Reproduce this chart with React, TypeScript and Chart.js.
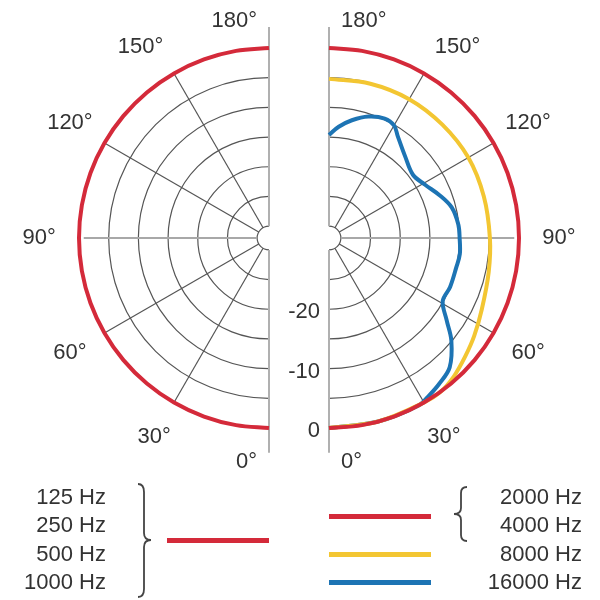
import { useEffect, useRef } from "react";
import { Chart, registerables } from "chart.js";

Chart.register(...registerables);

// ---------- data ----------
const ANGLE_TICKS = [0, 30, 60, 90, 120, 150, 180];
const ANGLE_LABELS = ["0°", "30°", "60°", "90°", "120°", "150°", "180°"];
const RING_DB = [-5, -10, -15, -20, -25, -30];
const DB_TICKS = [0, -10, -20];
const DB_TICK_LABELS = ["0", "-10", "-20"];
const DB_MIN = -32;

// left half: 125 / 250 / 500 / 1000 Hz
const LOW_ANGLES = [0, 10, 20, 30, 40, 50, 60, 70, 80, 90, 100, 110, 120, 130, 140, 150, 160, 170, 180];
const LOW_DB = [0, 0, 0, 0, 0, 0, 0, 0, 0, 0, 0, 0, 0, 0, 0, 0, 0, 0, 0];
// right half: 2000 / 4000 Hz
const MID_ANGLES = [0, 10, 20, 30, 40, 50, 60, 70, 80, 90, 100, 110, 120, 130, 140, 150, 160, 170, 180];
const MID_DB = [0, 0, 0, 0, 0, 0, 0, 0, 0, 0, 0, 0, 0, 0, 0, 0, 0, 0, 0];
// right half: 8000 Hz
const HF8_ANGLES = [0, 15, 30, 36, 42, 49, 56, 65, 78, 90, 105, 120, 135, 150, 165, 180];
const HF8_DB = [0, 0, 0, 0, -0.6, -1.6, -2.5, -3.6, -4.5, -4.9, -5.0, -4.9, -5.0, -5.0, -5.1, -5.2];
// right half: 16000 Hz
const HF16_ANGLES = [0, 15, 28, 32, 37, 43, 50, 55, 61, 68, 77, 83, 90, 96, 104, 111, 119, 127, 137, 146, 150, 155, 162, 169, 175, 180];
const HF16_DB = [0, 0, 0, -0.5, -1.2, -2.2, -5.1, -7.8, -10.1, -10.0, -10.0, -9.8, -10.0, -10.1, -10.7, -12.0, -13.5, -14.3, -13.2, -11.3, -10.1, -9.8, -10.5, -11.8, -13.2, -14.65];

const LEGEND_LEFT = ["125 Hz", "250 Hz", "500 Hz", "1000 Hz"];
const LEGEND_RIGHT = ["2000 Hz", "4000 Hz", "8000 Hz", "16000 Hz"];

const RED = "#d42a3a";
const YELLOW = "#f3c632";
const BLUE = "#1d74b4";
const TEXT = "#333333";
const FONT = "'Liberation Sans', Arial, Helvetica, sans-serif";

// ---------- layout ----------
const UNIT_PX = 190; // pixel radius of 0 dB circle
const MID_X = 299;
const CENTER_Y = 238;
const GAP = 30 / UNIT_PX; // half distance between the two half-plots

const rOf = (db: number) => (db - DB_MIN) / -DB_MIN;

function toXY(angles: number[], dbs: number[], side: number) {
  return angles.map((a, i) => {
    const r = rOf(dbs[i]);
    const t = (a * Math.PI) / 180;
    return { x: side * (GAP + r * Math.sin(t)), y: -r * Math.cos(t) };
  });
}

const gridPlugin = {
  id: "polarGrid",
  beforeDatasetsDraw(chart: any) {
    const { ctx, scales } = chart;
    const xs = scales.x;
    const ys = scales.y;
    const u = xs.getPixelForValue(1) - xs.getPixelForValue(0);
    const cy = ys.getPixelForValue(0);
    const rIn = rOf(-30) * u;
    ctx.save();
    for (const side of [-1, 1]) {
      const cx = xs.getPixelForValue(side * GAP);
      // rings
      ctx.strokeStyle = "#555";
      ctx.lineWidth = 1.2;
      for (const db of RING_DB) {
        ctx.beginPath();
        if (side > 0) ctx.arc(cx, cy, rOf(db) * u, -Math.PI / 2, Math.PI / 2);
        else ctx.arc(cx, cy, rOf(db) * u, Math.PI / 2, (3 * Math.PI) / 2);
        ctx.stroke();
      }
      // spokes
      for (const a of ANGLE_TICKS) {
        const t = (a * Math.PI) / 180;
        const dx = side * Math.sin(t);
        const dy = Math.cos(t);
        let rOut = u;
        if (a === 90) {
          ctx.strokeStyle = "#a8a8a8";
          ctx.lineWidth = 2;
          rOut = 0.975 * u;
        } else if (a === 0) {
          ctx.strokeStyle = "#b0b0b0";
          ctx.lineWidth = 2;
          rOut = 1.13 * u;
        } else if (a === 180) {
          ctx.strokeStyle = "#b0b0b0";
          ctx.lineWidth = 2;
          rOut = 1.11 * u;
        } else {
          ctx.strokeStyle = "#555";
          ctx.lineWidth = 1.2;
        }
        ctx.beginPath();
        ctx.moveTo(cx + dx * rIn, cy + dy * rIn);
        ctx.lineTo(cx + dx * rOut, cy + dy * rOut);
        ctx.stroke();
      }
    }
    ctx.restore();
  },
  afterDatasetsDraw(chart: any) {
    const { ctx, scales } = chart;
    const xs = scales.x;
    const ys = scales.y;
    const u = xs.getPixelForValue(1) - xs.getPixelForValue(0);
    const cy = ys.getPixelForValue(0);
    ctx.save();
    ctx.fillStyle = TEXT;
    ctx.font = `22px ${FONT}`;
    ctx.textBaseline = "middle";
    for (const side of [-1, 1]) {
      const cx = xs.getPixelForValue(side * GAP);
      ANGLE_TICKS.forEach((a, i) => {
        const label = ANGLE_LABELS[i];
        if (a === 0 || a === 180) {
          ctx.textAlign = side > 0 ? "left" : "right";
          const yy = a === 0 ? cy + 1.18 * u : cy - 1.145 * u;
          ctx.fillText(label, cx + side * 12, yy);
        } else {
          const la = a === 150 ? 146 : a;
          const t = (la * Math.PI) / 180;
          const rl = 1.21 * u;
          ctx.textAlign = "center";
          ctx.fillText(label, cx + side * Math.sin(t) * rl, cy + Math.cos(t) * rl);
        }
      });
    }
    // dB scale labels, between the halves
    const cxr = xs.getPixelForValue(GAP);
    ctx.textAlign = "right";
    DB_TICKS.forEach((db, i) => {
      ctx.fillText(DB_TICK_LABELS[i], cxr - 9, cy + rOf(db) * u + 3);
    });
    ctx.restore();
  },
};

export default function App() {
  const ref = useRef<HTMLCanvasElement | null>(null);

  useEffect(() => {
    if (!ref.current) return;
    const line = (data: any, color: string) => ({
      data,
      borderColor: color,
      backgroundColor: color,
      borderWidth: 4,
      showLine: true,
      fill: false,
      pointRadius: 0,
      tension: 0.35,
    });
    const chart = new Chart(ref.current, {
      type: "scatter",
      data: {
        datasets: [
          line(toXY(LOW_ANGLES, LOW_DB, -1), RED),
          line(toXY(MID_ANGLES, MID_DB, 1), RED),
          line(toXY(HF8_ANGLES, HF8_DB, 1), YELLOW),
          line(toXY(HF16_ANGLES, HF16_DB, 1), BLUE),
        ],
      },
      options: {
        responsive: false,
        maintainAspectRatio: false,
        animation: false,
        events: [],
        layout: { padding: 0 },
        plugins: { legend: { display: false }, tooltip: { enabled: false } },
        scales: {
          x: { type: "linear", display: false, min: -MID_X / UNIT_PX, max: (600 - MID_X) / UNIT_PX },
          y: { type: "linear", display: false, min: -(600 - CENTER_Y) / UNIT_PX, max: CENTER_Y / UNIT_PX },
        },
      },
      plugins: [gridPlugin],
    });
    return () => chart.destroy();
  }, []);

  const textStyle: any = {
    position: "absolute",
    top: 483,
    fontFamily: FONT,
    fontSize: 22,
    lineHeight: "28.4px",
    color: TEXT,
    textAlign: "right",
    whiteSpace: "nowrap",
  };
  const bar = (left: number, top: number, color: string): any => ({
    position: "absolute",
    left,
    top: top - 2.5,
    width: 102,
    height: 5,
    background: color,
  });

  return (
    <div style={{ position: "fixed", left: 0, top: 0, width: 600, height: 600, background: "#fff", overflow: "hidden" }}>
      <canvas ref={ref} width={600} height={600} style={{ display: "block" }} />
      <div style={{ ...textStyle, left: 0, width: 106 }}>
        {LEGEND_LEFT.map((t) => (
          <div key={t}>{t}</div>
        ))}
      </div>
      <div style={{ ...textStyle, left: 460, width: 122 }}>
        {LEGEND_RIGHT.map((t) => (
          <div key={t}>{t}</div>
        ))}
      </div>
      <div style={bar(167, 540, RED)} />
      <div style={bar(329, 516, RED)} />
      <div style={bar(329, 554, YELLOW)} />
      <div style={bar(329, 582, BLUE)} />
      <svg width={600} height={600} style={{ position: "absolute", left: 0, top: 0, pointerEvents: "none" }}>
        <path
          d="M138 484 Q144 484 144 492 L144 533 Q144 540 151 540 Q144 540 144 547 L144 589 Q144 597 138 597"
          fill="none"
          stroke="#444"
          strokeWidth={1.8}
        />
        <path
          d="M467 487 Q461 487 461 493 L461 508 Q461 514 454 514 Q461 514 461 520 L461 535 Q461 541 467 541"
          fill="none"
          stroke="#444"
          strokeWidth={1.8}
        />
      </svg>
    </div>
  );
}
